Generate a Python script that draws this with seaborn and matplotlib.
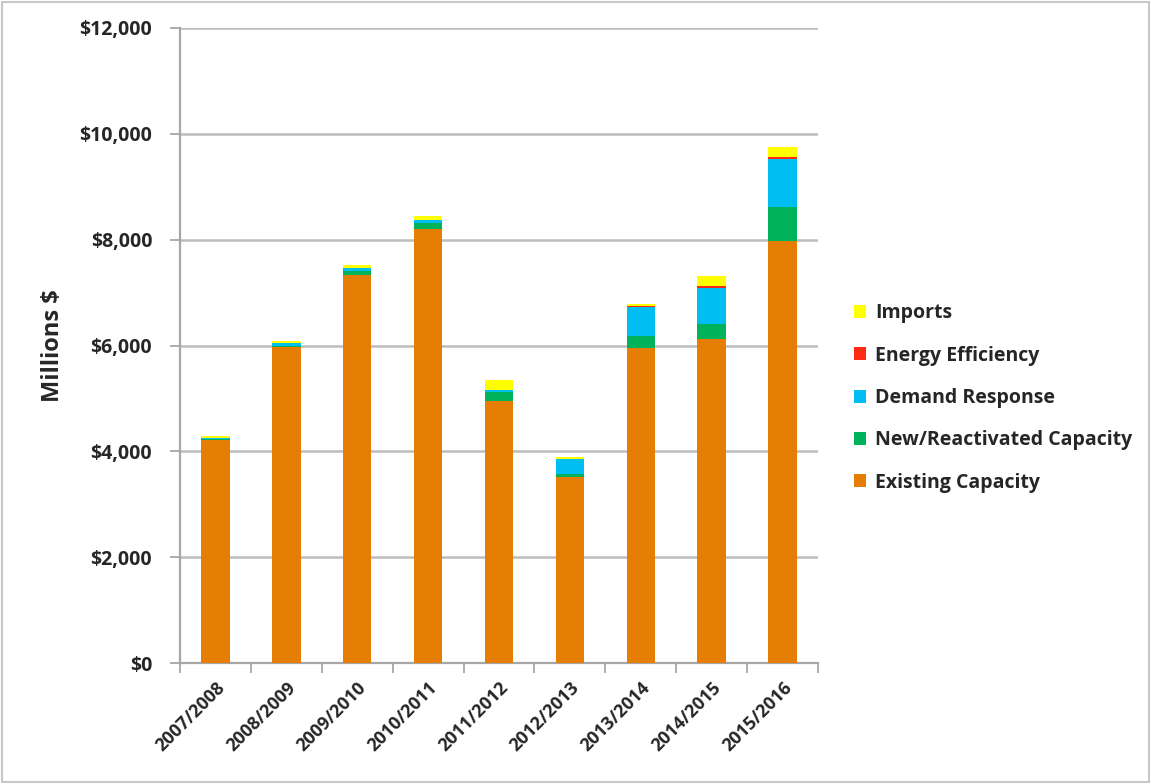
import numpy as np
import pandas as pd
import matplotlib
matplotlib.use("Agg")
import matplotlib.pyplot as plt
import seaborn as sns
from matplotlib.ticker import FuncFormatter, FixedLocator
from matplotlib.patches import Rectangle, Patch

seasons = ["2007/2008", "2008/2009", "2009/2010", "2010/2011", "2011/2012",
           "2012/2013", "2013/2014", "2014/2015", "2015/2016"]
existing = [4215, 5979, 7335, 8198, 4953, 3510, 5955, 6119, 7977]
new_react = [25, 15, 80, 115, 170, 70, 225, 285, 640]
demand_resp = [20, 50, 50, 55, 40, 280, 540, 675, 900]
energy_eff = [0, 0, 0, 0, 0, 0, 35, 40, 45]
imports = [30, 40, 55, 80, 190, 30, 25, 190, 190]

series_names = ["Existing Capacity", "New/Reactivated Capacity", "Demand Response",
                "Energy Efficiency", "Imports"]
series_vals = [existing, new_react, demand_resp, energy_eff, imports]
colors = ["#E67E05", "#00B35A", "#00BDF2", "#FF2A12", "#FFFF00"]

sns.set_style("white")
plt.rcParams['font.family'] = ['Open Sans', 'DejaVu Sans']

fig = plt.figure(figsize=(11.51, 7.84), dpi=100)
ax = fig.add_axes([180/1151, 1-663/784, (818-180)/1151, (663-28)/784])

cum = np.cumsum(np.array(series_vals), axis=0)
# Draw from the top of the stack down so each lower segment overlays the one above
for i in range(len(series_names) - 1, -1, -1):
    df = pd.DataFrame({"season": seasons, "value": cum[i]})
    sns.barplot(data=df, x="season", y="value", color=colors[i], saturation=1,
                width=0.4, ax=ax, zorder=3, edgecolor="none")

ax.set_ylim(0, 12000)
ax.set_xlim(-0.5, len(seasons) - 0.5)
ax.yaxis.set_major_locator(FixedLocator(np.arange(0, 12001, 2000)))
ax.yaxis.set_major_formatter(FuncFormatter(lambda v, p: f"${int(v):,}"))
ax.grid(axis="y", color="#BDBDBD", linewidth=1.8, zorder=0)
ax.set_axisbelow(True)

for s in ["top", "right"]:
    ax.spines[s].set_visible(False)
for s in ["left", "bottom"]:
    ax.spines[s].set_color("#A6A6A6")
    ax.spines[s].set_linewidth(1.6)

ax.set_xlabel("")
ax.set_ylabel("Millions $", fontsize=17, fontweight="bold", labelpad=10)

ax.tick_params(axis="y", length=7, width=1.3, color="#A6A6A6", labelsize=14,
               pad=13, left=True)
for lbl in ax.get_yticklabels():
    lbl.set_fontweight("bold")

ax.set_xticks(range(len(seasons)))
ax.set_xticklabels(seasons, rotation=45, ha="right", rotation_mode="anchor",
                   fontsize=13, fontweight="bold")
ax.tick_params(axis="x", which="major", length=0, pad=11)
ax.set_xticks(np.arange(-0.5, len(seasons), 1.0), minor=True)
ax.tick_params(axis="x", which="minor", length=7, width=1.3, color="#A6A6A6",
               bottom=True)

handles = [Patch(facecolor=colors[i], edgecolor="none", label=series_names[i])
           for i in range(len(series_names) - 1, -1, -1)]
fig.legend(handles=handles, loc="center left", bbox_to_anchor=(836/1151, 1-398/784),
           frameon=False, handlelength=0.65, handleheight=0.65,
           handletextpad=0.45, labelspacing=1.15, prop={"weight": "bold", "size": 14})

fig.patches.append(Rectangle((0.002, 0.002), 0.996, 0.996, transform=fig.transFigure,
                             fill=False, edgecolor="#C8C8C8", linewidth=1.5))

fig.savefig("out.png", dpi=100)
